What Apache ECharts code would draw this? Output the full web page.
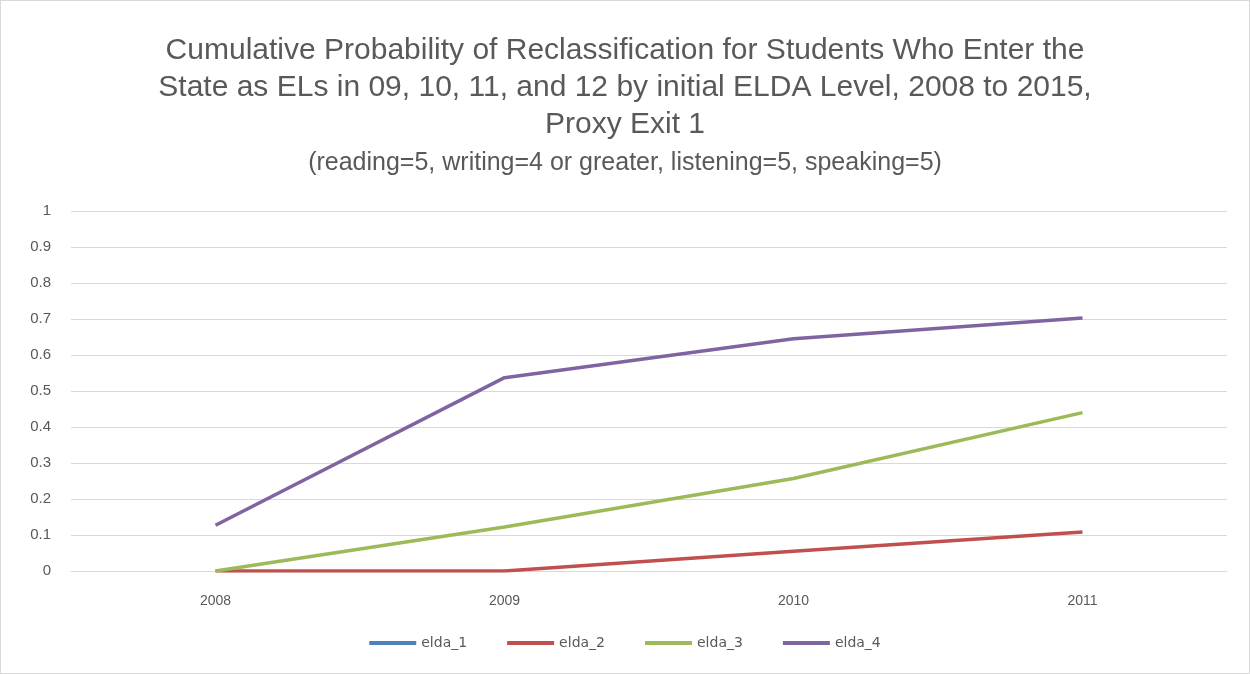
<!DOCTYPE html>
<html>
<head>
<meta charset="utf-8">
<script src="https://cdn.jsdelivr.net/npm/echarts@6/dist/echarts.min.js"></script>
<style>
html, body { margin: 0; padding: 0; background: #fff; }
#chart-area { width: 1248px; height: 672px; border: 1px solid #d9d9d9; }
</style>
</head>
<body>
<div id="chart-area"></div>
<script>
var years = ['2008', '2009', '2010', '2011'];
var elda1 = [null, null, null, null];
var elda2 = [0, 0, 0.055, 0.108];
var elda3 = [0, 0.122, 0.257, 0.44];
var elda4 = [0.127, 0.537, 0.645, 0.703];

var chart = echarts.init(document.getElementById('chart-area'));

function line(name, data, color) {
    return {
        name: name,
        type: 'line',
        data: data,
        symbol: 'none',
        lineStyle: { width: 3.5, color: color },
        itemStyle: { color: color }
    };
}

var option = {
    textStyle: { fontFamily: 'Liberation Sans' },
    title: {
        text: 'Cumulative Probability of Reclassification for Students Who Enter the\nState as ELs in 09, 10, 11, and 12 by initial ELDA Level, 2008 to 2015,\nProxy Exit 1',
        subtext: '(reading=5, writing=4 or greater, listening=5, speaking=5)',
        left: 'center',
        top: 26,
        itemGap: 8,
        textStyle: { fontSize: 30, fontWeight: 'normal', color: '#595959', lineHeight: 37 },
        subtextStyle: { fontSize: 25, color: '#595959' }
    },
    legend: {
        bottom: 18,
        left: 'center',
        itemWidth: 47,
        itemHeight: 4,
        itemGap: 40,
        icon: 'rect',
        textStyle: { fontSize: 14, color: '#595959', fontFamily: 'DejaVu Sans' },
        data: ['elda_1', 'elda_2', 'elda_3', 'elda_4']
    },
    grid: { left: 70, right: 22, top: 210, bottom: 102 },
    xAxis: {
        type: 'category',
        data: years,
        boundaryGap: true,
        axisLine: { lineStyle: { color: '#d9d9d9' } },
        axisTick: { show: false },
        axisLabel: { color: '#595959', fontSize: 14, margin: 23 }
    },
    yAxis: {
        type: 'value',
        min: 0,
        max: 1,
        interval: 0.1,
        axisLine: { show: false },
        axisTick: { show: false },
        splitLine: { lineStyle: { color: '#d9d9d9' } },
        axisLabel: { color: '#595959', fontSize: 15, margin: 20 }
    },
    series: [
        line('elda_1', elda1, '#4F81BD'),
        line('elda_2', elda2, '#C0504D'),
        line('elda_3', elda3, '#9BBB59'),
        line('elda_4', elda4, '#8064A2')
    ]
};
chart.setOption(option);
</script>
</body>
</html>
